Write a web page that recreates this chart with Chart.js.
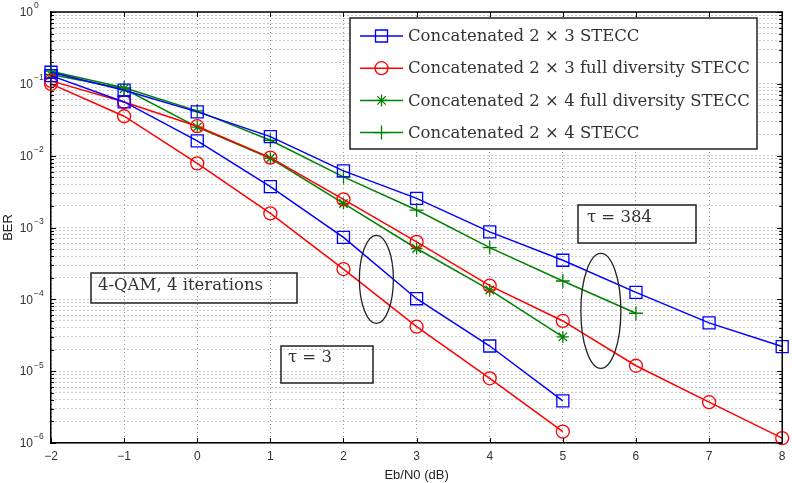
<!DOCTYPE html>
<html>
<head>
<meta charset="utf-8">
<script src="https://cdn.jsdelivr.net/npm/chart.js@4.4.0/dist/chart.umd.min.js"></script>
<style>
  html, body { margin: 0; padding: 0; background: #fff; }
  canvas { display: block; }
</style>
</head>
<body>
<canvas id="ber" width="792" height="483"></canvas>
<script>
// Eb/N0 points (dB)
const ebn0Long = [-2, -1, 0, 1, 2, 3, 4, 5, 6, 7, 8];
const ebn0Short = [-2, -1, 0, 1, 2, 3, 4, 5];
const ebn0Mid = [-2, -1, 0, 1, 2, 3, 4, 5, 6];

// BER
const berStecc23Tau384 = [0.145, 0.0815, 0.0407, 0.0184, 0.00615, 0.00254, 8.7e-4, 3.5e-4, 1.25e-4, 4.7e-5, 2.2e-5];
const berStecc23Tau3 = [0.13, 0.056, 0.0161, 0.0037, 7.3e-4, 1.02e-4, 2.24e-5, 3.85e-6];
const berFull23Tau384 = [0.11, 0.056, 0.0257, 0.0094, 0.00246, 6.3e-4, 1.55e-4, 5.0e-5, 1.19e-5, 3.7e-6, 1.17e-6];
const berFull23Tau3 = [0.1, 0.0354, 0.0078, 0.00157, 2.64e-4, 4.16e-5, 7.96e-6, 1.44e-6];
const berFull24 = [0.135, 0.0855, 0.025, 0.0092, 0.00216, 5.1e-4, 1.35e-4, 3.0e-5];
const berStecc24 = [0.15, 0.088, 0.042, 0.0164, 0.00507, 0.00175, 5.25e-4, 1.8e-4, 6.4e-5];

const legendLabels = [
    'Concatenated 2 \u00d7 3 STECC',
    'Concatenated 2 \u00d7 3 full diversity STECC',
    'Concatenated 2 \u00d7 4 full diversity STECC',
    'Concatenated 2 \u00d7 4 STECC'
];

// axis ticks
const xTicks = [-2, -1, 0, 1, 2, 3, 4, 5, 6, 7, 8];
const yExponents = [-6, -5, -4, -3, -2, -1, 0];
const yMinorSteps = [2, 3, 4, 5, 6, 7, 8, 9];

const BLUE = '#0000ff', RED = '#ff0000', GREEN = '#008000';
const SERIF = '"DejaVu Serif", "Liberation Serif", serif';
const SANS = '"Liberation Sans", Arial, sans-serif';

const pairs = (xs, ys) => xs.map((x, i) => ({ x, y: ys[i] }));
const isDecade = v => {
    const e = Math.log10(v);
    return Math.abs(e - Math.round(e)) < 1e-6;
};
const minus = n => n < 0 ? '\u2212' + Math.abs(n) : String(n);

function line(label, xs, ys, color, style, radius, inLegend) {
    return {
        label,
        data: pairs(xs, ys),
        borderColor: color,
        borderWidth: 1.5,
        backgroundColor: 'rgba(0,0,0,0)',
        pointStyle: style,
        pointRadius: radius,
        pointBorderColor: color,
        pointBackgroundColor: 'rgba(0,0,0,0)',
        pointBorderWidth: 1.3,
        tension: 0,
        fill: false,
        clip: false,
        inLegend
    };
}

const datasets = [
    line(legendLabels[0], ebn0Long, berStecc23Tau384, BLUE, 'rect', 8.5, true),
    line(legendLabels[0], ebn0Short, berStecc23Tau3, BLUE, 'rect', 8.5, false),
    line(legendLabels[1], ebn0Long, berFull23Tau384, RED, 'circle', 6.5, true),
    line(legendLabels[1], ebn0Short, berFull23Tau3, RED, 'circle', 6.5, false),
    line(legendLabels[2], ebn0Short, berFull24, GREEN, 'star', 6, true),
    line(legendLabels[3], ebn0Mid, berStecc24, GREEN, 'cross', 7, true)
];

function drawMarker(ctx, style, x, y) {
    ctx.beginPath();
    if (style === 'rect') {
        ctx.rect(x - 6, y - 6, 12, 12);
    } else if (style === 'circle') {
        ctx.arc(x, y, 6.5, 0, Math.PI * 2);
    } else if (style === 'cross') {
        ctx.moveTo(x - 7, y); ctx.lineTo(x + 7, y);
        ctx.moveTo(x, y - 7); ctx.lineTo(x, y + 7);
    } else if (style === 'star') {
        for (let k = 0; k < 4; k++) {
            const a = k * Math.PI / 4;
            ctx.moveTo(x - 6 * Math.cos(a), y - 6 * Math.sin(a));
            ctx.lineTo(x + 6 * Math.cos(a), y + 6 * Math.sin(a));
        }
    }
    ctx.stroke();
}

function textBox(ctx, text, bx, by, bw, bh, tx, ty) {
    ctx.strokeStyle = '#222';
    ctx.lineWidth = 1.5;
    ctx.strokeRect(bx, by, bw, bh);
    ctx.fillStyle = '#333';
    ctx.textBaseline = 'middle';
    ctx.textAlign = 'left';
    ctx.fillText(text, tx, ty);
}

const frame = {
    id: 'frame',
    afterDraw(chart) {
        const { ctx, chartArea: a, scales: { x, y } } = chart;
        ctx.save();

        // inward tick marks on all four sides
        ctx.strokeStyle = '#000';
        ctx.lineWidth = 1;
        ctx.beginPath();
        x.ticks.forEach(t => {
            const px = Math.round(x.getPixelForValue(t.value)) + 0.5;
            ctx.moveTo(px, a.bottom); ctx.lineTo(px, a.bottom - 5);
            ctx.moveTo(px, a.top); ctx.lineTo(px, a.top + 5);
        });
        y.ticks.forEach(t => {
            const py = Math.round(y.getPixelForValue(t.value)) + 0.5;
            const len = isDecade(t.value) ? 5 : 3;
            ctx.moveTo(a.left, py); ctx.lineTo(a.left + len, py);
            ctx.moveTo(a.right, py); ctx.lineTo(a.right - len, py);
        });
        ctx.stroke();

        ctx.lineWidth = 1.5;
        ctx.beginPath();
        ctx.moveTo(a.left, a.top); ctx.lineTo(a.right, a.top); ctx.lineTo(a.right, a.bottom);
        ctx.stroke();

        // decade labels on the log axis: "10" with a raised exponent
        ctx.fillStyle = '#333';
        ctx.textBaseline = 'middle';
        y.ticks.forEach(t => {
            if (!isDecade(t.value)) return;
            const py = y.getPixelForValue(t.value);
            const e = Math.round(Math.log10(t.value));
            ctx.font = '12px ' + SANS;
            ctx.textAlign = 'right';
            ctx.fillText('10', 33, py + 1);
            ctx.font = '8.5px ' + SANS;
            ctx.textAlign = 'left';
            ctx.fillText(minus(e), 34, py - 6);
        });

        // legend
        const lx = 350, ly = 18, lw = 407, lh = 131;
        ctx.fillStyle = '#fff';
        ctx.fillRect(lx, ly, lw, lh);
        ctx.strokeStyle = '#222';
        ctx.lineWidth = 1.5;
        ctx.strokeRect(lx, ly, lw, lh);
        ctx.font = '16.5px ' + SERIF;
        let row = 0;
        chart.data.datasets.forEach(ds => {
            if (!ds.inLegend) return;
            const ry = 36 + row * 32.2;
            ctx.strokeStyle = ds.borderColor;
            ctx.lineWidth = 1.5;
            ctx.beginPath();
            ctx.moveTo(360, ry); ctx.lineTo(403, ry);
            ctx.stroke();
            ctx.lineWidth = 1.3;
            drawMarker(ctx, ds.pointStyle, 381.5, ry);
            ctx.fillStyle = '#333';
            ctx.textBaseline = 'middle';
            ctx.textAlign = 'left';
            ctx.fillText(ds.label, 408, ry + 1);
            row++;
        });

        // annotations
        textBox(ctx, '4-QAM, 4 iterations', 91, 273, 206, 30, 98, 286);
        textBox(ctx, '\u03c4 = 3', 281, 346, 92, 37, 288, 358);
        textBox(ctx, '\u03c4 = 384', 578, 205, 118, 38, 587, 218);

        ctx.strokeStyle = '#222';
        ctx.lineWidth = 1.3;
        ctx.beginPath();
        ctx.ellipse(x.getPixelForValue(2.45), y.getPixelForValue(1.9e-4), 17, 44, 0, 0, Math.PI * 2);
        ctx.stroke();
        ctx.beginPath();
        ctx.ellipse(x.getPixelForValue(5.52), y.getPixelForValue(6.9e-5), 20, 57.5, 0, 0, Math.PI * 2);
        ctx.stroke();

        ctx.restore();
    }
};

const gridColor = 'rgba(0,0,0,0.4)';

new Chart(document.getElementById('ber'), {
    type: 'line',
    data: { datasets },
    options: {
        responsive: false,
        animation: false,
        layout: { padding: { top: 12, right: 9, bottom: 0, left: 0 } },
        plugins: {
            legend: { display: false },
            tooltip: { enabled: false }
        },
        scales: {
            x: {
                type: 'linear',
                min: -2,
                max: 8,
                afterBuildTicks: s => { s.ticks = xTicks.map(v => ({ value: v })); },
                afterFit: s => { s.height = 40; },
                ticks: {
                    callback: v => minus(v),
                    color: '#333',
                    font: { family: SANS, size: 12 },
                    padding: 6,
                    maxRotation: 0,
                    autoSkip: false
                },
                grid: { color: gridColor, lineWidth: 1, drawTicks: false },
                border: { color: '#000', width: 1.5, dash: [1, 3] },
                title: {
                    display: true,
                    text: 'Eb/N0 (dB)',
                    color: '#222',
                    font: { family: SANS, size: 13 },
                    padding: { top: 0, bottom: 0 }
                }
            },
            y: {
                type: 'logarithmic',
                min: 1e-6,
                max: 1,
                afterBuildTicks: s => {
                    const t = [];
                    yExponents.forEach(e => {
                        t.push({ value: Math.pow(10, e) });
                        if (e < 0) yMinorSteps.forEach(m => t.push({ value: m * Math.pow(10, e) }));
                    });
                    s.ticks = t;
                },
                afterFit: s => { s.width = 51; },
                ticks: { display: false, autoSkip: false },
                grid: { color: gridColor, lineWidth: 1, drawTicks: false },
                border: { color: '#000', width: 1.5, dash: [1, 3] },
                title: {
                    display: true,
                    text: 'BER',
                    color: '#222',
                    font: { family: SANS, size: 13 },
                    padding: { top: 1, bottom: 0 }
                }
            }
        }
    },
    plugins: [frame]
});
</script>
</body>
</html>
